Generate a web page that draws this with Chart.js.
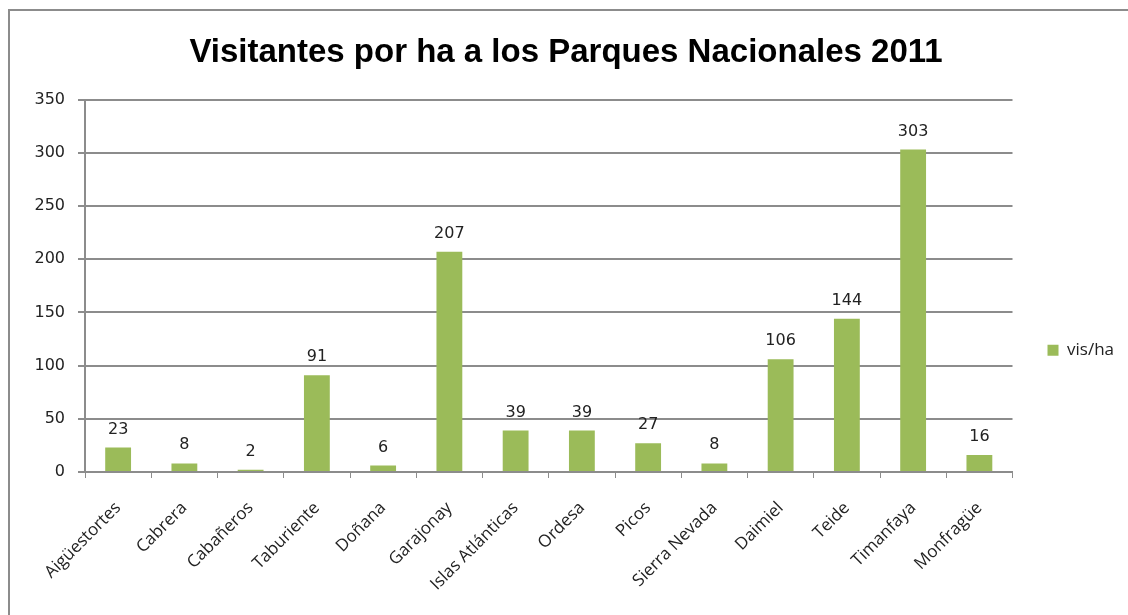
<!DOCTYPE html>
<html>
<head>
<meta charset="utf-8">
<script src="https://cdn.jsdelivr.net/npm/chart.js@4.4.0/dist/chart.umd.min.js"></script>
<style>
  html, body { margin: 0; padding: 0; background: #fff; overflow: hidden; }
  #frame { position: absolute; left: 8px; top: 9px; width: 1300px; height: 800px;
           border-top: 2px solid #8c8c8c; border-left: 2px solid #8c8c8c; }
  #wrap { position: absolute; left: 8px; top: 9px; width: 1126px; height: 606px; }
</style>
</head>
<body>
<div id="frame"></div>
<div id="wrap"><canvas id="myChart" width="1126" height="606"></canvas></div>
<script>
const parques = ["Aigüestortes", "Cabrera", "Cabañeros", "Taburiente", "Doñana", "Garajonay",
  "Islas Atlánticas", "Ordesa", "Picos", "Sierra Nevada", "Daimiel", "Teide", "Timanfaya", "Monfragüe"];
const visHa = [23, 8, 2, 91, 6, 207, 39, 39, 27, 8, 106, 144, 303, 16];
const serieNombre = "vis/ha";
const titulo = "Visitantes por ha a los Parques Nacionales 2011";

const gris = "#8c8c8c";
const verde = "#9bbb59";

// numbers above the bars
const barLabels = {
  id: "barLabels",
  afterDatasetsDraw(chart) {
    const ctx = chart.ctx;
    const meta = chart.getDatasetMeta(0);
    ctx.save();
    ctx.font = '16px "DejaVu Sans"';
    ctx.fillStyle = "#222";
    ctx.textAlign = "center";
    ctx.textBaseline = "alphabetic";
    meta.data.forEach((bar, i) => {
      ctx.fillText(visHa[i], bar.x, bar.y - 14);
    });
    ctx.restore();
  }
};

const ctx = document.getElementById("myChart");
new Chart(ctx, {
  type: "bar",
  data: {
    labels: parques,
    datasets: [
      {
        label: serieNombre,
        data: visHa,
        backgroundColor: verde,
        borderWidth: 0,
        barPercentage: 0.39,
        categoryPercentage: 1
      }
    ]
  },
  options: {
    responsive: false,
    animation: false,
    devicePixelRatio: 1,
    layout: { padding: { left: 0, right: 10, top: 0, bottom: 0 } },
    plugins: {
      title: {
        display: true,
        text: titulo,
        color: "#000",
        font: { family: "Liberation Sans", size: 33, weight: "bold" },
        padding: { top: 24, bottom: 27 }
      },
      legend: {
        position: "right",
        title: { display: true, text: " ", padding: { top: 62, bottom: 0 } },
        labels: {
          boxWidth: 11,
          boxHeight: 11,
          padding: 35,
          color: "#222",
          font: { family: "Open Sans", size: 17 }
        }
      },
      tooltip: { enabled: false }
    },
    scales: {
      x: {
        afterFit: (scale) => { scale.height = 143; },
        grid: { display: true, drawOnChartArea: false, color: gris, tickLength: 6, offset: true },
        border: { display: true, color: gris, width: 2 },
        ticks: {
          autoSkip: false,
          minRotation: 45,
          maxRotation: 45,
          padding: 20,
          color: "#222",
          font: { family: "Open Sans", size: 17 }
        }
      },
      y: {
        min: 0,
        max: 350,
        afterFit: (scale) => { scale.width = 77; },
        grid: { color: gris, lineWidth: 2, tickLength: 7 },
        border: { display: true, color: gris, width: 2 },
        ticks: {
          stepSize: 50,
          padding: 13,
          color: "#222",
          font: { family: "DejaVu Sans", size: 16 }
        }
      }
    }
  },
  plugins: [barLabels]
});
</script>
</body>
</html>
